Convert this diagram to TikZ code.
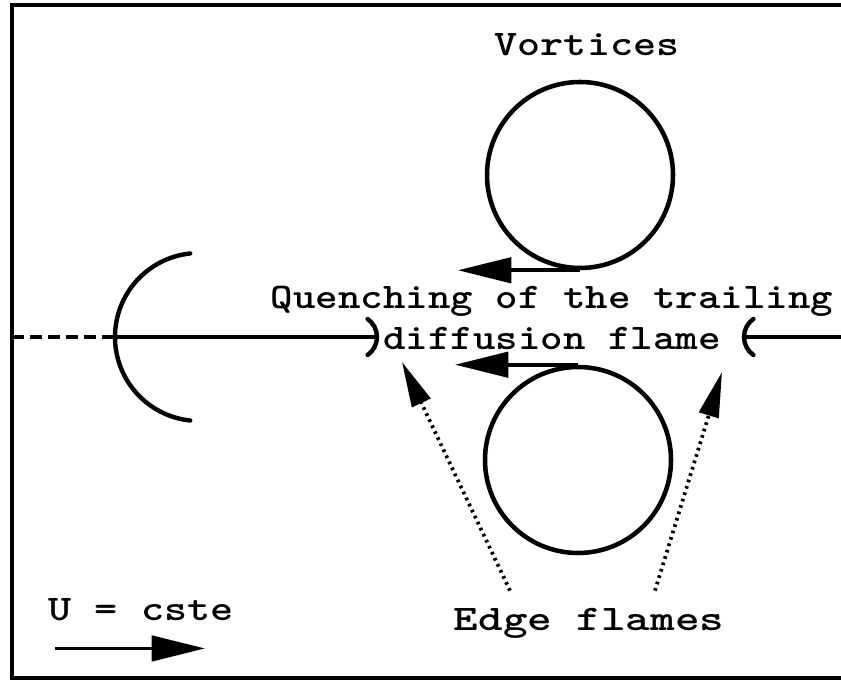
\documentclass[tikz,border=0pt]{standalone}
\usepackage{graphicx}
\usetikzlibrary{arrows.meta,calc}
\newcommand{\widetxt}[1]{\scalebox{1.22}[1]{#1}}
\tikzset{
  frame/.style={line width=2.6pt},
  flow/.style={line width=3.3pt,line cap=round},
  upstream/.style={line width=2.4pt,dash pattern=on 9pt off 4.5pt},
  vortex/.style={circle,draw,line width=3.4pt,inner sep=0pt,minimum size=139.5pt},
  lbl/.style={inner sep=0pt,align=center,font=\fontsize{27}{27}\selectfont\ttfamily\bfseries},
  bigarr/.style={-{Triangle[length=40pt,width=19pt]},line width=2.8pt},
  dotarr/.style={-{Triangle[length=34pt,width=15pt]},line width=2.8pt,dash pattern=on 2pt off 3pt}
}

\begin{document}
\begin{tikzpicture}[x=0.75pt,y=0.75pt]
  \useasboundingbox (0,0) rectangle (841,680);
  \draw[frame] (841,675) -- (12,675) -- (12,2) -- (841,2);

  % vortices
  \node[vortex] (vtop) at (580,505) {};
  \node[vortex] (vbot) at (578,220) {};
  \node[lbl] (vlabel) at (587,635) {\widetxt{Vortices}};
  \draw[bigarr] (vtop.south) -- ++(-122,0);
  \draw[bigarr] (vbot.north) -- ++(-123,0);

  % axis and flame fronts
  \coordinate (axL) at (12,343);
  \coordinate (front) at (115,343);
  \coordinate (qleft) at (377,343);
  \coordinate (qright) at (744,343);
  \coordinate (axR) at (841,343);
  \draw[upstream] (axL) -- (front);
  \draw[flow] (front) -- (qleft);
  \draw[flow] (qright) -- (axR);
  \draw[flow] (front) arc (180:96:84) (front) arc (180:264:84);
  \draw[flow] (qleft) arc (0:55:22) (qleft) arc (0:-55:22);
  \draw[flow] (qright) arc (180:125:22) (qright) arc (180:235:22);

  \node[lbl] (quench) at (552,362) {\scalebox{1.19}[1]{Quenching of the trailing}\\[4pt]\scalebox{1.19}[1]{diffusion flame}};

  % edge flames
  \node[lbl] (edge) at (589,57) {\scalebox{1.3}[1]{Edge flames}};
  \coordinate (edgeL) at (402,318);
  \coordinate (edgeR) at (722,308);
  \draw[dotarr] ($(edge.north)+(-79,17)$) -- (edgeL);
  \draw[dotarr] ($(edge.north)+(66,17)$) -- (edgeR);

  % inflow
  \node[lbl] (ucste) at (141,70) {\widetxt{U = cste}};
  \draw[bigarr] ($(ucste.south)+(-86,-27)$) -- ++(150,0);
\end{tikzpicture}
\end{document}
